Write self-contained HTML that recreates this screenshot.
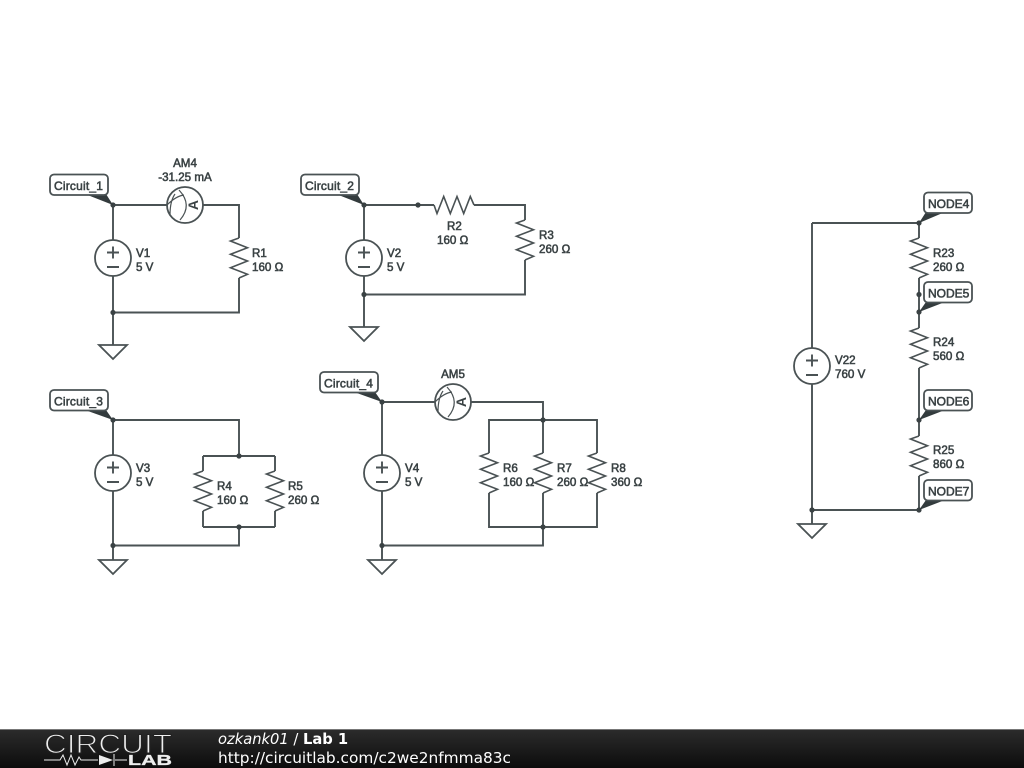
<!DOCTYPE html>
<html><head><meta charset="utf-8"><style>
html,body{margin:0;padding:0;background:#fff;width:1024px;height:768px;overflow:hidden}
svg{display:block}
.w{fill:none;stroke:#4a5254;stroke-width:1.900}
.s{fill:#fff;stroke:#4a5254;stroke-width:1.800}
text{font-family:"Liberation Sans",sans-serif;font-size:11.600px;fill:#3a4244;stroke:#3a4244;stroke-width:.55}
.t{font-size:12px}
.c{letter-spacing:.2px}
.f{font-family:"DejaVu Sans",sans-serif;font-size:15px;fill:#fff;stroke:none}
</style></head><body>
<svg width="1024" height="768" viewBox="0 0 1024 768" xmlns="http://www.w3.org/2000/svg">
<defs>
<g id="R"><path class="w" style="stroke-width:1.600" d="M0,-20 L-8.500,-17 L8.500,-10.300 L-8.500,-3.700 L8.500,3 L-8.500,9.700 L8.500,16.300 L0,20"/></g>
<g id="V"><circle class="s" r="18"/><path class="w" d="M-6,-5.500H6M0,-11.500V0.500M-6,9H6"/></g>
<g id="G"><path class="s" d="M-14,0H14L0,14Z"/></g>
<g id="A"><circle class="s" r="18"/><path class="w" style="stroke-width:1.200" d="M-6,-15 Q8,0 -5,15 M-18,0 Q-9,-9 -1,-10 M-15,10 Q-15,-4 -10,-11"/><text x="0" y="0" transform="translate(13,0) rotate(-90)" text-anchor="middle" style="font-size:14px;font-weight:bold;stroke:none">A</text></g>
<g id="D"><circle r="2.600" fill="#3a4244"/></g>
<linearGradient id="bar" x1="0" y1="0" x2="0" y2="1"><stop offset="0" stop-color="#2c2c2c"/><stop offset="1" stop-color="#0c0c0c"/></linearGradient>
</defs>

<!-- Circuit 1 -->
<path class="w" d="M113,205H239V312.500H113M113,205V345"/>
<path d="M239,238V278" stroke="#fff" stroke-width="3"/>
<use href="#R" transform="translate(239,258)"/>
<use href="#V" transform="translate(113,258)"/>
<use href="#G" transform="translate(113,345)"/>
<use href="#A" transform="translate(185,205)"/>
<use href="#D" x="113" y="205"/><use href="#D" x="113" y="312.500"/>
<text x="185" y="167" text-anchor="middle">AM4</text>
<text x="185" y="181" text-anchor="middle">-31.25 mA</text>
<text x="136" y="257">V1</text><text x="136" y="271">5 V</text>
<text x="252" y="257">R1</text><text x="252" y="271">160 Ω</text>
<path d="M85,194H106L113,205Z" fill="#333b3d"/>
<rect class="s" x="50" y="174.500" width="58" height="20.500" rx="4"/>
<text class="t c" x="54" y="190">Circuit_1</text>

<!-- Circuit 2 -->
<path class="w" d="M364,205H525V294.500H364M364,205V327"/>
<path d="M434,205H474M525,220V260" stroke="#fff" stroke-width="3"/>
<use href="#R" transform="translate(454,205) rotate(-90)"/>
<use href="#R" transform="translate(525,240)"/>
<use href="#V" transform="translate(364,258)"/>
<use href="#G" transform="translate(364,327)"/>
<use href="#D" x="364" y="205"/><use href="#D" x="418" y="205"/><use href="#D" x="364" y="294.500"/>
<text x="447" y="230">R2</text><text x="437" y="244">160 Ω</text>
<text x="539" y="239">R3</text><text x="539" y="253">260 Ω</text>
<text x="387" y="257">V2</text><text x="387" y="271">5 V</text>
<path d="M336,194H357L364,205Z" fill="#333b3d"/>
<rect class="s" x="301" y="174.500" width="58" height="20.500" rx="4"/>
<text class="t c" x="305" y="190">Circuit_2</text>

<!-- Circuit 3 -->
<path class="w" d="M113,420H239V456M203,456H275M203,527H275M203,456V527M275,456V527M239,527V545.500H113M113,420V560"/>
<path d="M203,471V511M275,471V511" stroke="#fff" stroke-width="3"/>
<use href="#R" transform="translate(203,491)"/>
<use href="#R" transform="translate(275,491)"/>
<use href="#V" transform="translate(113,473)"/>
<use href="#G" transform="translate(113,560)"/>
<use href="#D" x="113" y="420"/><use href="#D" x="239" y="456"/><use href="#D" x="239" y="527"/><use href="#D" x="113" y="545.500"/>
<text x="136" y="472">V3</text><text x="136" y="486">5 V</text>
<text x="217" y="490">R4</text><text x="217" y="504">160 Ω</text>
<text x="288" y="490">R5</text><text x="288" y="504">260 Ω</text>
<path d="M85,410H106L113,420Z" fill="#333b3d"/>
<rect class="s" x="50" y="390" width="58" height="20.500" rx="4"/>
<text class="t c" x="54" y="405.500">Circuit_3</text>

<!-- Circuit 4 -->
<path class="w" d="M382,402H543V545.500H382M489,420H597V527H489ZM382,402V560"/>
<path d="M489,453V493M543,453V493M597,453V493" stroke="#fff" stroke-width="3"/>
<use href="#R" transform="translate(489,473)"/>
<use href="#R" transform="translate(543,473)"/>
<use href="#R" transform="translate(597,473)"/>
<use href="#V" transform="translate(382,473)"/>
<use href="#G" transform="translate(382,560)"/>
<use href="#A" transform="translate(453,402)"/>
<use href="#D" x="382" y="402"/><use href="#D" x="543" y="420"/><use href="#D" x="543" y="527"/><use href="#D" x="382" y="545.500"/>
<text x="453" y="378" text-anchor="middle">AM5</text>
<text x="405" y="472">V4</text><text x="405" y="486">5 V</text>
<text x="503" y="472">R6</text><text x="503" y="486">160 Ω</text>
<text x="557" y="472">R7</text><text x="557" y="486">260 Ω</text>
<text x="611" y="472">R8</text><text x="611" y="486">360 Ω</text>
<path d="M354,392H375L382,402Z" fill="#333b3d"/>
<rect class="s" x="320" y="372" width="58" height="20.500" rx="4"/>
<text class="t c" x="324" y="387.500">Circuit_4</text>

<!-- Right circuit -->
<path class="w" d="M812,223H919V510H812M812,223V524"/>
<path d="M919,238V278M919,328V368M919,436V476" stroke="#fff" stroke-width="3"/>
<use href="#R" transform="translate(919,258)"/>
<use href="#R" transform="translate(919,348)"/>
<use href="#R" transform="translate(919,456)"/>
<use href="#V" transform="translate(812,366)"/>
<use href="#G" transform="translate(812,524)"/>
<use href="#D" x="919" y="223"/><use href="#D" x="919" y="294.500"/><use href="#D" x="919" y="312"/><use href="#D" x="919" y="420"/><use href="#D" x="919" y="510"/><use href="#D" x="812" y="510"/>
<text x="835" y="364">V22</text><text x="835" y="378">760 V</text>
<text x="933" y="257">R23</text><text x="933" y="271">260 Ω</text>
<text x="933" y="346">R24</text><text x="933" y="360">560 Ω</text>
<text x="933" y="454">R25</text><text x="933" y="468">860 Ω</text>
<path d="M919,223L926,212H945Z" fill="#333b3d"/>
<rect class="s" x="924" y="192.500" width="48" height="20.500" rx="4"/>
<text class="t" x="928" y="208">NODE4</text>
<path d="M919,312L926,302H945Z" fill="#333b3d"/>
<rect class="s" x="924" y="282" width="48" height="20.500" rx="4"/>
<text class="t" x="928" y="297.500">NODE5</text>
<path d="M919,420L926,410H945Z" fill="#333b3d"/>
<rect class="s" x="924" y="390" width="48" height="20.500" rx="4"/>
<text class="t" x="928" y="405.500">NODE6</text>
<path d="M919,510L926,500H945Z" fill="#333b3d"/>
<rect class="s" x="924" y="480" width="48" height="20.500" rx="4"/>
<text class="t" x="928" y="495.500">NODE7</text>

<!-- Footer -->
<rect x="0" y="729" width="1024" height="39" fill="url(#bar)"/>
<rect x="0" y="729" width="1024" height="1" fill="#777"/>
<text x="44" y="753" textLength="128" lengthAdjust="spacingAndGlyphs" style="font-size:27px;fill:#eee;stroke:#222;stroke-width:1.100">CIRCUIT</text>
<path d="M44,760H60L63,755L67,765L71,755L75,765L79,757L81,760H98M115,760H127M114,754V766" fill="none" stroke="#eee" stroke-width="1"/>
<path d="M99,755L113,760L99,765Z" fill="#eee"/>
<text x="128" y="765" textLength="44" lengthAdjust="spacingAndGlyphs" style="font-size:15px;font-weight:bold;fill:#eee;stroke:#eee;stroke-width:.3">LAB</text>
<text class="f" x="218" y="744" style="font-size:14.700px"><tspan font-style="italic">ozkank01</tspan> / <tspan font-weight="bold">Lab 1</tspan></text>
<text class="f" x="218" y="763" textLength="293" lengthAdjust="spacingAndGlyphs">http://circuitlab.com/c2we2nfmma83c</text>
</svg>
</body></html>
